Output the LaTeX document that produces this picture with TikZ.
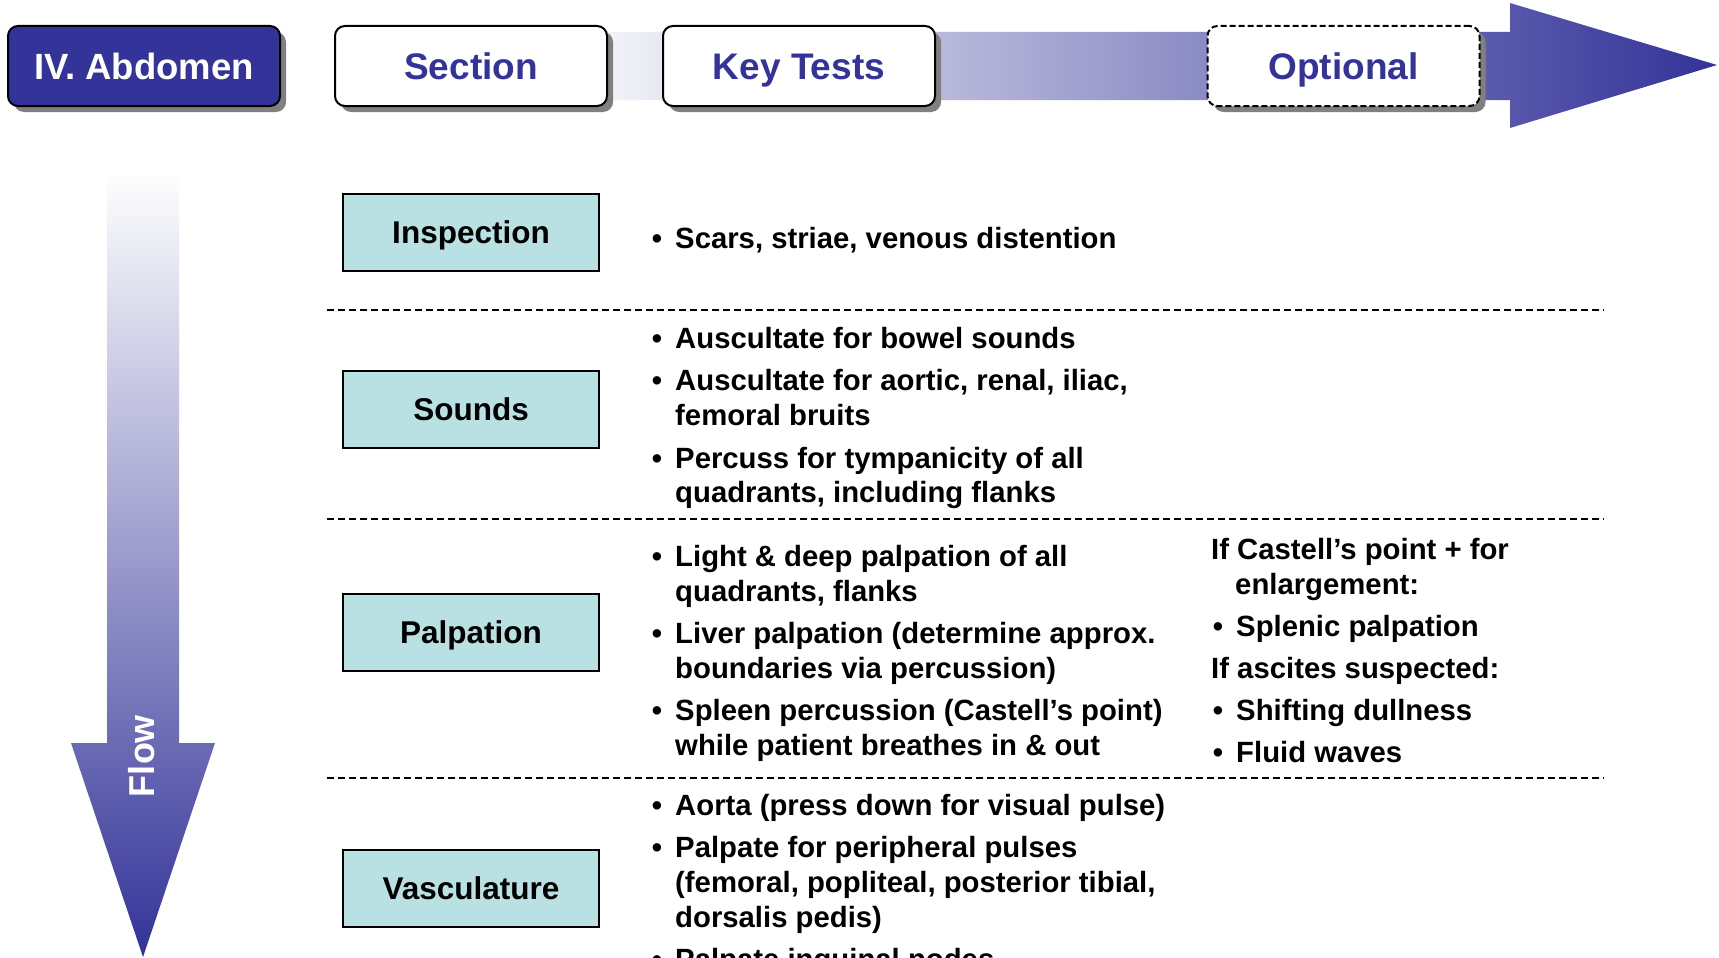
\documentclass[tikz,border=0pt]{standalone}
\usepackage{fontspec}
\setmainfont{Liberation Sans}
\usetikzlibrary{shadows}
\definecolor{abblue}{RGB}{51,51,153}
\definecolor{tealbox}{RGB}{185,224,226}
\definecolor{bandstart}{RGB}{250,250,252}
\pgfdeclareverticalshading{vflow}{100bp}{color(0bp)=(abblue); color(25bp)=(abblue); color(72bp)=(white); color(100bp)=(white)}
\newcommand\hdrfont{\bfseries\fontsize{37}{44}\selectfont}
\newcommand\abdfont{\bfseries\fontsize{36.5}{44}\selectfont}
\newcommand\secfont{\bfseries\fontsize{31.5}{38}\selectfont}
\newcommand\bodyfont{\bfseries\fontsize{29.3}{35}\selectfont}
\newcommand\flowfont{\bfseries\fontsize{36}{42}\selectfont}
\tikzset{
  hdrbox/.style={draw=black, line width=2pt, rounded corners=10pt, minimum width=272pt,
    minimum height=80pt, inner sep=0pt, text height=26.5pt, text depth=0pt,
    font=\hdrfont, text=abblue, fill=white,
    drop shadow={shadow xshift=6pt, shadow yshift=-6pt, opacity=1, fill=black!50}},
  secbox/.style={draw=black, line width=2pt, fill=tealbox, minimum width=256pt,
    minimum height=77pt, inner sep=0pt, text height=22.6pt, text depth=0pt, font=\secfont},
  sepline/.style={draw=black, line width=2pt, dash pattern=on 7pt off 4pt},
  ln/.style={anchor=base west, inner sep=0pt, font=\bodyfont},
  bul/.style={anchor=base, inner sep=0pt, font=\bodyfont}
}
\begin{document}
\begin{tikzpicture}[x=1pt, y=-1pt]
\useasboundingbox (0,0) rectangle (1719,958);
\clip (0,0) rectangle (1719,958);
\fill[white] (0,0) rectangle (1719,958);

% horizontal arrow band
\shade[left color=bandstart, right color=abblue]
  (560,32) -- (1510,32) -- (1510,3) -- (1717,65) -- (1510,128) -- (1510,100) -- (560,100) -- cycle;

% vertical flow arrow
\shade[shading=vflow]
  (107,120) -- (179,120) -- (179,743) -- (215,743) -- (143,957) -- (71,743) -- (107,743) -- cycle;
\node[rotate=90, text=white, font=\flowfont, inner sep=0pt, text height=25.8pt, text depth=0pt] (flow) at (142,756) {Flow};

% header boxes
\node[hdrbox, fill=abblue, text=white, font=\abdfont] (abd) at (144,66) {IV. Abdomen};
\node[hdrbox] (section) at (471,66) {Section};
\node[hdrbox] (keytests) at (799,66) {Key Tests};
\node[hdrbox, dash pattern=on 6pt off 3pt] (optional) at (1343.5,66) {Optional};

% section boxes
\node[secbox] (insp) at (471,232.5) {Inspection};
\node[secbox] (sounds) at (471,409) {Sounds};
\node[secbox] (palp) at (471,632.5) {Palpation};
\node[secbox] (vasc) at (471,888.5) {Vasculature};

% separators
\coordinate (s1l) at (327,310); \coordinate (s1r) at (1604,310);
\coordinate (s2l) at (327,519); \coordinate (s2r) at (1604,519);
\coordinate (s3l) at (327,778); \coordinate (s3r) at (1604,778);
\draw[sepline] (s1l) -- (s1r);
\draw[sepline] (s2l) -- (s2r);
\draw[sepline] (s3l) -- (s3r);

% Inspection
\node[bul] (b11) at (657,248) {•};
\node[ln] (t11) at (675,248) {Scars, striae, venous distention};

% Sounds
\node[bul] (b21) at (657,348) {•};
\node[ln] (t21) at (675,348) {Auscultate for bowel sounds};
\node[bul] (b22) at (657,390) {•};
\node[ln] (t22) at (675,390) {Auscultate for aortic, renal, iliac,};
\node[ln] (t23) at (675,425) {femoral bruits};
\node[bul] (b24) at (657,468) {•};
\node[ln] (t24) at (675,468) {Percuss for tympanicity of all};
\node[ln] (t25) at (675,502) {quadrants, including flanks};

% Palpation
\node[bul] (b31) at (657,566) {•};
\node[ln] (t31) at (675,566) {Light \& deep palpation of all};
\node[ln] (t32) at (675,601) {quadrants, flanks};
\node[bul] (b33) at (657,643) {•};
\node[ln] (t33) at (675,643) {Liver palpation (determine approx.};
\node[ln] (t34) at (675,678) {boundaries via percussion)};
\node[bul] (b35) at (657,720) {•};
\node[ln] (t35) at (675,720) {Spleen percussion (Castell’s point)};
\node[ln] (t36) at (675,755) {while patient breathes in \& out};

% Optional column
\node[ln] (r1) at (1211,559) {If Castell’s point + for};
\node[ln] (r2) at (1235,594) {enlargement:};
\node[bul] (rb3) at (1218,636) {•};
\node[ln] (r3) at (1236,636) {Splenic palpation};
\node[ln] (r4) at (1211,678) {If ascites suspected:};
\node[bul] (rb5) at (1218,720) {•};
\node[ln] (r5) at (1236,720) {Shifting dullness};
\node[bul] (rb6) at (1218,762) {•};
\node[ln] (r6) at (1236,762) {Fluid waves};

% Vasculature
\node[bul] (b41) at (657,815) {•};
\node[ln] (t41) at (675,815) {Aorta (press down for visual pulse)};
\node[bul] (b42) at (657,857) {•};
\node[ln] (t42) at (675,857) {Palpate for peripheral pulses};
\node[ln] (t43) at (675,892) {(femoral, popliteal, posterior tibial,};
\node[ln] (t44) at (675,927) {dorsalis pedis)};
\node[bul] (b45) at (657,969) {•};
\node[ln] (t45) at (675,969) {Palpate inguinal nodes};
\end{tikzpicture}
\end{document}
